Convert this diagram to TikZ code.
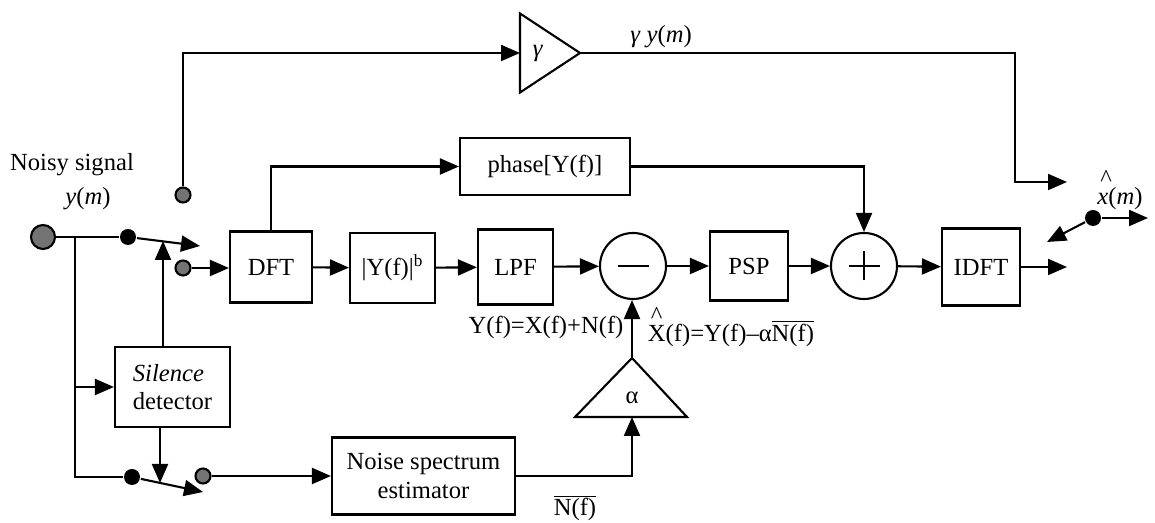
\documentclass[tikz,border=0pt]{standalone}
\usepackage{fontspec}
\setmainfont{Liberation Serif}
\usetikzlibrary{arrows.meta}

% caret set above a letter
\newcommand{\hatover}[1]{\leavevmode\rlap{\raisebox{0.72em}{\kern0.12em\textasciicircum}}#1}

\begin{document}
\begin{tikzpicture}[
    line width=1.2pt,
    >={Triangle[length=0.38cm,width=0.32cm]},
    every node/.style={font=\fontsize{14}{16}\selectfont},
    blk/.style={draw, rectangle, inner sep=0pt},
    sumnode/.style={draw, circle, minimum size=1.32cm, inner sep=0pt},
    bigdot/.style={draw, circle, fill=black!55, minimum size=0.48cm, inner sep=0pt},
    gdot/.style={draw, circle, fill=black!55, minimum size=0.30cm, inner sep=0pt},
    bdot/.style={circle, fill=black, minimum size=0.32cm, inner sep=0pt}
  ]
  \useasboundingbox (0,0) rectangle (23.1,10.46);

  % === Input and the two switches ===
  \node[bigdot] (in) at (0.86,5.72) {};
  \node (noisy) at (1.44,7.16) {Noisy signal};
  \node (ym) at (1.76,6.48) {\textit{y}(\textit{m})};
  \node[bdot] (sw1) at (2.56,5.72) {};
  \coordinate (sw1tip) at (4.00,5.54);
  \node[gdot] (up) at (3.66,6.56) {};
  \node[gdot] (dn) at (3.66,5.10) {};
  \coordinate (br) at (1.50,5.72);
  \node[bdot] (sw2) at (2.64,0.92) {};
  \coordinate (sw2tip) at (4.06,0.62);
  \node[gdot] (g2) at (4.06,0.94) {};

  \node[blk, minimum width=2.30cm, minimum height=1.60cm, align=left]
    (sil) at (3.45,2.72) {\textit{Silence}\\detector};
  \coordinate (sel1) at (3.26,5.64);
  \coordinate (sel2) at (3.20,0.80);

  \draw (in) -- (sw1);
  \draw[->] (sw1) -- (sw1tip);
  \draw (br) |- (sw2);
  \draw[->] (sw2) -- (sw2tip);
  \draw[->] (br |- sil.west) -- (sil.west);
  \draw[->] (sel1 |- sil.north) -- (sel1);
  \draw[->] (sel2 |- sil.south) -- (sel2);

  % === Main row ===
  \node[blk, minimum width=1.64cm, minimum height=1.42cm] (dft) at (5.42,5.12) {DFT};
  \node[blk, minimum width=1.70cm, minimum height=1.40cm] (mag) at (7.85,5.10) {|Y(f)|\textsuperscript{b}};
  \node[blk, minimum width=1.50cm, minimum height=1.50cm] (lpf) at (10.31,5.12) {LPF};
  \node[sumnode] (sub) at (12.66,5.14) {};
  \node[blk, minimum width=1.56cm, minimum height=1.38cm] (psp) at (14.98,5.14) {PSP};
  \node[sumnode] (add) at (17.28,5.14) {};
  \node[blk, minimum width=1.56cm, minimum height=1.54cm] (idft) at (19.62,5.12) {IDFT};
  \node[blk, minimum width=3.40cm, minimum height=1.14cm] (phase) at (10.90,7.13) {phase[Y(f)]};

  \draw ([xshift=-0.31cm]sub.center) -- ([xshift=0.31cm]sub.center);
  \draw ([xshift=-0.31cm]add.center) -- ([xshift=0.31cm]add.center);
  \draw ([yshift=-0.29cm]add.center) -- ([yshift=0.29cm]add.center);

  \draw[->] (dn) -- (dn -| dft.west);
  \draw[->] (dft) -- (mag);
  \draw[->] (mag) -- (lpf);
  \draw[->] (lpf) -- (sub);
  \draw[->] (sub) -- (psp);
  \draw[->] (psp) -- (add);
  \draw[->] (add) -- (idft);
  \draw[->] (dft.north) |- (phase);
  \draw[->] (phase) -| (add);

  \node (eqy) at (10.92,3.92) {Y(f)=X(f)+N(f)};
  \node (eqx) at (14.62,3.92) {\hatover{X}(f)=Y(f)–α$\overline{\mbox{N(f)}}$};

  % === Gain gamma ===
  \coordinate (gin) at (10.40,9.40);
  \coordinate (gout) at (11.60,9.40);
  \coordinate (gcorn) at (20.30,9.40);
  \coordinate (out1) at (21.34,6.82);
  \draw (10.40,10.19) -- (gout) -- (10.40,8.61) -- cycle;
  \node (gam) at (10.76,9.40) {\textit{γ}};
  \node (gy) at (13.22,9.72) {\textit{γ} \textit{y}(\textit{m})};
  \draw[->] (up) |- (gin);
  \draw[->] (gout) -- (gcorn) |- (out1);

  % === Noise estimate and gain alpha ===
  \node[blk, minimum width=3.66cm, minimum height=1.54cm, align=center]
    (nse) at (8.47,0.94) {Noise spectrum\\estimator};
  \coordinate (ain) at (12.64,2.12);
  \coordinate (aout) at (12.64,3.30);
  \draw (11.50,2.12) -- (aout) -- (13.74,2.12) -- cycle;
  \node (alp) at (12.64,2.50) {α};
  \node (nbar) at (11.50,0.30) {$\overline{\mbox{N(f)}}$};
  \draw[->] (g2) -- (nse);
  \draw[->] (nse) -| (ain);
  \draw[->] (aout) -- (aout |- sub.south);

  % === Output switch ===
  \node[bdot] (sw3) at (21.86,6.10) {};
  \coordinate (o1) at (22.96,6.10);
  \coordinate (o2) at (20.94,5.62);
  \coordinate (o3) at (21.34,5.12);
  \node (xm) at (22.40,6.66) {\hatover{\textit{x}}(\textit{m})};
  \draw[->] (sw3) -- (o1);
  \draw[->] (sw3) -- (o2);
  \draw[->] (idft) -- (o3);

\end{tikzpicture}
\end{document}
